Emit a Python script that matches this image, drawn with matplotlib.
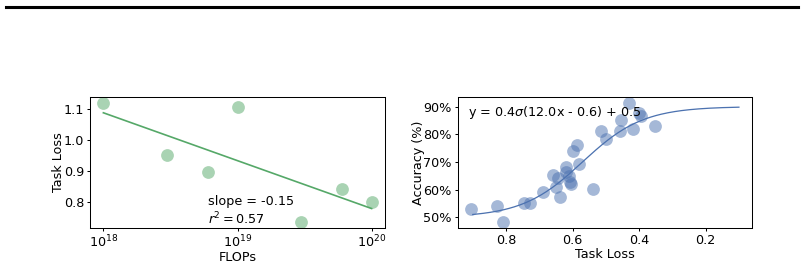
import numpy as np
import matplotlib
matplotlib.use('Agg')
import matplotlib.pyplot as plt
from matplotlib.lines import Line2D
from matplotlib.ticker import PercentFormatter, NullLocator, MultipleLocator

# Left panel: task loss vs compute
flops = [1e18, 3e18, 6e18, 1e19, 3e19, 6e19, 1e20]
task_loss = [1.122, 0.954, 0.8985, 1.1075, 0.735, 0.844, 0.801]

# Right panel: accuracy vs task loss
loss_pts = [0.905, 0.828, 0.81, 0.746, 0.728, 0.69, 0.659, 0.645, 0.649, 0.639,
            0.621, 0.619, 0.612, 0.607, 0.605, 0.60, 0.588, 0.581, 0.54, 0.514,
            0.50, 0.458, 0.454, 0.43, 0.419, 0.401, 0.393, 0.351]
acc_pts = [53.1, 54.2, 48.2, 55.1, 55.1, 59.1, 65.3, 64.3, 61.0, 57.2,
           68.3, 66.2, 64.8, 62.9, 62.0, 74.0, 76.0, 69.2, 60.2, 81.2,
           78.3, 81.2, 85.0, 91.4, 82.0, 87.5, 86.5, 83.0]

# sigmoid fit shown in the right panel
sig_L, sig_k, sig_x0, sig_b = 0.4, 11.0, 0.57, 0.5
curve_range = (0.1, 0.9)

green = '#55a868'
blue = '#4c72b0'

DPI = 92
fig = plt.figure(figsize=(804 / DPI, 265 / DPI), dpi=DPI)
ax1 = fig.add_axes([0.1119, 0.1385, 0.367, 0.4966])
ax2 = fig.add_axes([0.5693, 0.1385, 0.3664, 0.4966])

# rule across the top
fig.add_artist(Line2D([6 / 804, 798 / 804], [1 - 7 / 265] * 2,
                      transform=fig.transFigure, color='black', lw=2.4))

# ---- left
lx = np.log10(flops)
slope, intercept = np.polyfit(lx, task_loss, 1)
r2 = np.corrcoef(lx, task_loss)[0, 1] ** 2
ax1.scatter(flops, task_loss, s=100, color=green, alpha=0.5, linewidths=0)
ax1.plot(flops, slope * lx + intercept, color=green, lw=1.3)
ax1.set_xscale('log')
ax1.xaxis.set_minor_locator(NullLocator())
ax1.yaxis.set_major_locator(MultipleLocator(0.1))
ax1.set_xlabel('FLOPs', labelpad=0)
ax1.set_ylabel('Task Loss', labelpad=-1)
ax1.text(0.40, 0.01, 'slope = %.2f\n$r^2 = %.2f$' % (slope, r2),
         transform=ax1.transAxes, va='bottom', ha='left')

# ---- right
xs = np.linspace(curve_range[0], curve_range[1], 200)
ys = (sig_L / (1 + np.exp(-sig_k * (sig_x0 - xs))) + sig_b) * 100
ax2.scatter(loss_pts, acc_pts, s=100, color=blue, alpha=0.5, linewidths=0)
ax2.plot(xs, ys, color=blue, lw=1.0)
ax2.invert_xaxis()
ax2.xaxis.set_major_locator(MultipleLocator(0.2))
ax2.yaxis.set_major_locator(MultipleLocator(10))
ax2.yaxis.set_major_formatter(PercentFormatter(decimals=0))
ax2.set_xlabel('Task Loss', labelpad=1)
ax2.set_ylabel('Accuracy (%)', labelpad=-1)
ax2.text(0.035, 0.88, r'y = 0.4$\sigma$(12.0x - 0.6) + 0.5',
         transform=ax2.transAxes, va='center', ha='left')

for ax in (ax1, ax2):
    ax.tick_params(length=2.5, pad=2)

fig.savefig('out.png', dpi=DPI)
